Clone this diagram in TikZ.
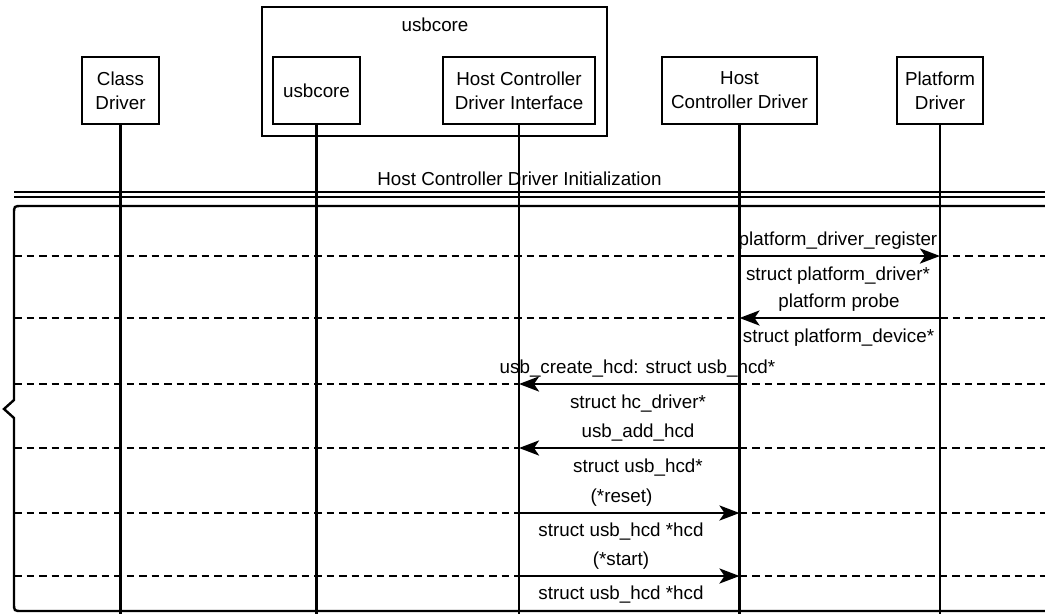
\documentclass[tikz,border=0pt]{standalone}
\usepackage{fontspec}
\setmainfont{Liberation Sans}
\usetikzlibrary{arrows.meta}
\begin{document}
\begin{tikzpicture}[x=1pt,y=-1pt,
  every node/.style={font=\fontsize{18.8}{24}\selectfont, inner sep=0pt},
  box/.style={draw, line width=2.6pt, align=center, minimum height=67pt},
  life/.style={line width=2.4pt},
  sep/.style={line width=2.2pt, dash pattern=on 7.5pt off 5pt},
  msg/.style={line width=2.8pt, -{Stealth[length=20pt,width=15pt,inset=5pt]}},
  lbl/.style={anchor=base}]
\useasboundingbox (0,0) rectangle (1045,614);

% actors
\node[box, minimum width=345pt, minimum height=129pt] (core) at (434.5,71.5) {};
\node[lbl] (corelbl) at (435,31) {usbcore};
\node[box, minimum width=77pt] (cls) at (120.5,90.5) {Class\\Driver};
\node[box, minimum width=87pt] (usb) at (316.5,90.5) {usbcore};
\node[box, minimum width=152pt] (hcdi) at (519,90.5) {Host Controller\\Driver Interface};
\node[box, minimum width=155pt] (hcd) at (739.5,90.5) {Host\\Controller Driver};
\node[box, minimum width=86pt] (plat) at (940,90.5) {Platform\\Driver};

% lifeline ends and row coordinates
\foreach \a in {cls,usb,hcdi,hcd,plat}{
  \coordinate (\a-end) at (\a.south |- 0,614);
  \foreach \n/\y in {1/256,2/318,3/384,4/448,5/513,6/576}{
    \coordinate (\a\n) at (\a.south |- 0,\y);
  }
}
\foreach \n/\y in {1/256,2/318,3/384,4/448,5/513,6/576}{
  \coordinate (L\n) at (14,\y);
  \coordinate (R\n) at (1045,\y);
}

% title and double separator
\node[lbl] (title) at (519.5,185) {Host Controller Driver Initialization};
\coordinate (dl1) at (14,192);
\coordinate (dr1) at (1045,192);
\coordinate (dl2) at (14,197);
\coordinate (dr2) at (1045,197);
\draw[line width=1.6pt] (dl1) -- (dr1);
\draw[line width=1.6pt] (dl2) -- (dr2);

% frame with notch
\draw[line width=2.4pt] (1045,206) -- (22,206) .. controls (14,206) .. (14,214)
  -- (14,400) -- (4,409) -- (14,418) -- (14,603) .. controls (14,611) .. (22,611) -- (1045,611);

% dashed separators
\draw[sep] (L1) -- (hcd1);  \draw[sep] (plat1) -- (R1);
\draw[sep] (L2) -- (hcd2);  \draw[sep] (plat2) -- (R2);
\draw[sep] (L3) -- (hcdi3); \draw[sep] (hcd3) -- (R3);
\draw[sep] (L4) -- (hcdi4); \draw[sep] (hcd4) -- (R4);
\draw[sep] (L5) -- (hcdi5); \draw[sep] (hcd5) -- (R5);
\draw[sep] (L6) -- (hcdi6); \draw[sep] (hcd6) -- (R6);

% labels
\node[lbl] (l1a) at (838,245) {platform\_driver\_register};
\node[lbl] (l1b) at (838,280) {struct platform\_driver*};
\node[lbl] (l2a) at (839,307) {platform probe};
\node[lbl] (l2b) at (838.5,342) {struct platform\_device*};
\node[lbl] (l3a) at (637.5,373) {usb\_create\_hcd: struct usb\_hcd*};
\node[lbl] (l3b) at (638,408) {struct hc\_driver*};
\node[lbl] (l4a) at (638,437) {usb\_add\_hcd};
\node[lbl] (l4b) at (638,472) {struct usb\_hcd*};
\node[lbl] (l5a) at (621.5,502) {(*reset)};
\node[lbl] (l5b) at (621,536) {struct usb\_hcd *hcd};
\node[lbl] (l6a) at (621,565) {(*start)};
\node[lbl] (l6b) at (621,599) {struct usb\_hcd *hcd};

% lifelines
\foreach \a in {cls,usb,hcdi,hcd,plat}{
  \draw[life] (\a.south) -- (\a-end);
}

% messages
\draw[msg] (hcd1) -- (plat1);
\draw[msg] (plat2) -- (hcd2);
\draw[msg] (hcd3) -- (hcdi3);
\draw[msg] (hcd4) -- (hcdi4);
\draw[msg] (hcdi5) -- (hcd5);
\draw[msg] (hcdi6) -- (hcd6);
\end{tikzpicture}
\end{document}
